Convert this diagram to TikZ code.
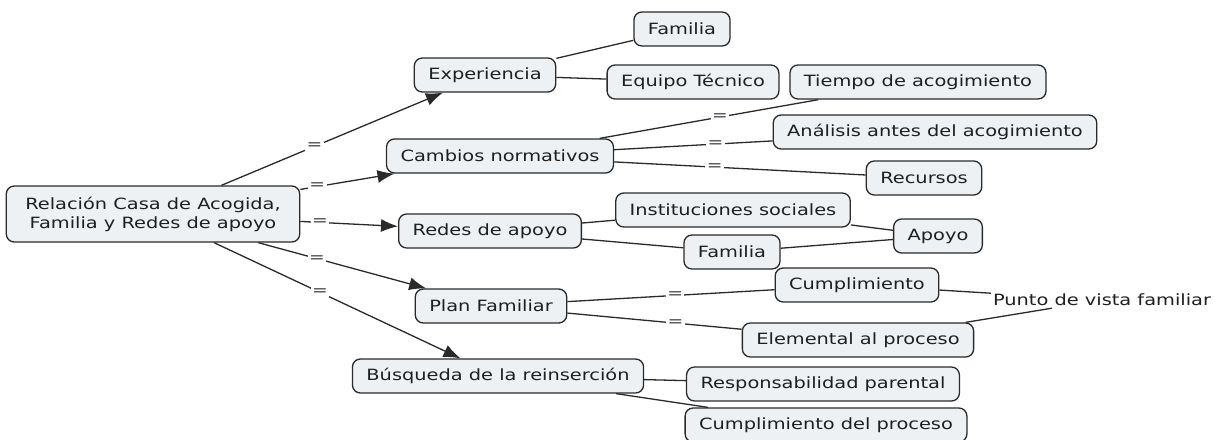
\documentclass[tikz,border=0pt]{standalone}
\usepackage{fontspec}
\setmainfont{DejaVu Sans}[FakeStretch=1.25]
\usetikzlibrary{arrows.meta}
\definecolor{conceptfill}{HTML}{EDF1F4}
\definecolor{conceptline}{HTML}{2A2A2A}
\begin{document}
\begin{tikzpicture}[x=1pt,y=-1pt,
		concept/.style={draw=conceptline,fill=conceptfill,rounded corners=8pt,line width=1.3pt,inner xsep=14pt,minimum height=34pt,font=\fontsize{15.5}{19}\selectfont,text=black!88},
		link/.style={draw=conceptline,line width=1.3pt},
		arrowlink/.style={link,-{Latex[length=17pt,width=13pt]}},
		eqlabel/.style={fill=white,inner sep=1.5pt,font=\fontsize{15}{15}\selectfont,text=black!75}]
				\useasboundingbox (0,0) rectangle (1215,439);
				% concepts
				\node[concept,align=center,minimum height=56pt,inner xsep=19pt] (root) at (153,214) {Relación Casa de Acogida,\\Familia y Redes de apoyo};
				\node[concept] (exp) at (485,75) {Experiencia};
				\node[concept] (famA) at (682,29) {Familia};
				\node[concept] (equipo) at (693,82) {Equipo Técnico};
				\node[concept] (cambios) at (500,156) {Cambios normativos};
				\node[concept] (tiempo) at (918,82) {Tiempo de acogimiento};
				\node[concept] (analisis) at (935,132) {Análisis antes del acogimiento};
				\node[concept] (recursos) at (924,178) {Recursos};
				\node[concept] (redes) at (490,231) {Redes de apoyo};
				\node[concept] (inst) at (733,210) {Instituciones sociales};
				\node[concept] (famB) at (732,252) {Familia};
				\node[concept] (apoyo) at (938,236) {Apoyo};
				\node[concept] (plan) at (491,306) {Plan Familiar};
				\node[concept] (cumpl) at (857,285) {Cumplimiento};
				\node[font=\fontsize{15.5}{19}\selectfont,text=black!88,inner sep=2pt] (punto) at (1102,300) {Punto de vista familiar};
				\node[concept] (elem) at (858,340) {Elemental al proceso};
				\node[concept] (busq) at (498,376) {Búsqueda de la reinserción};
				\node[concept] (resp) at (823,384) {Responsabilidad parental};
				\node[concept] (cumplproc) at (826,425) {Cumplimiento del proceso};
				% links from the root
				\draw[arrowlink] (root) -- node[eqlabel,pos=0.42] {=} (exp);
				\draw[arrowlink] (root) -- node[eqlabel,pos=0.18] {=} (cambios);
				\draw[arrowlink] (root) -- node[eqlabel,pos=0.2] {=} (redes);
				\draw[arrowlink] (root) -- node[eqlabel,pos=0.35] {=} (plan);
				\draw[arrowlink] (root) -- node[eqlabel,pos=0.43] {=} (busq);
				% second level
				\draw[link] (exp) -- (famA);
				\draw[link] (exp) -- (equipo);
				\draw[link] (cambios) -- node[eqlabel,pos=0.55] {=} (tiempo);
				\draw[link] (cambios) -- node[eqlabel,pos=0.64] {=} (analisis);
				\draw[link] (cambios) -- node[eqlabel,pos=0.4] {=} (recursos);
				\draw[link] (redes) -- (inst);
				\draw[link] (redes) -- (famB);
				\draw[link] (inst) -- (apoyo);
				\draw[link] (famB) -- (apoyo);
				\draw[link] (plan) -- node[eqlabel,pos=0.52] {=} (cumpl);
				\draw[link] (plan) -- node[eqlabel,pos=0.62] {=} (elem);
				\draw[link] (cumpl) -- (punto);
				\draw[link] (elem) -- (punto);
				\draw[link] (busq) -- (resp);
				\draw[link] (busq) -- (cumplproc);
\end{tikzpicture}
\end{document}
